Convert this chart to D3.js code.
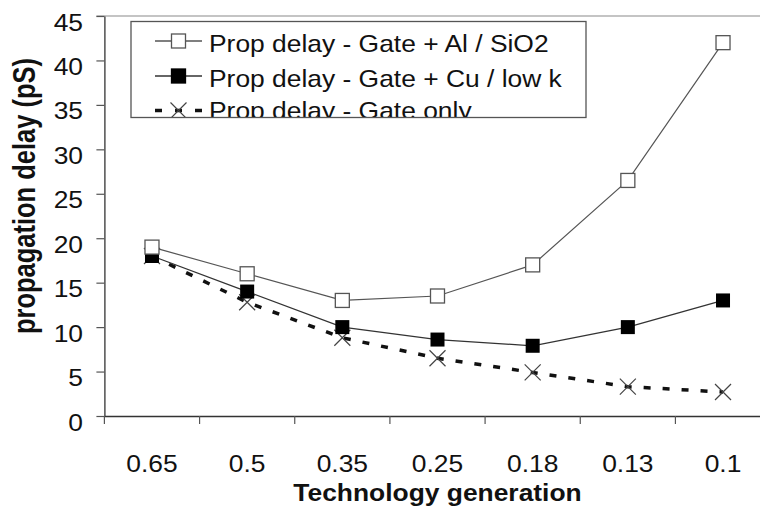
<!DOCTYPE html>
<html>
<head>
<meta charset="utf-8">
<script src="https://cdn.jsdelivr.net/npm/d3@7"></script>
<style>
  html, body { margin: 0; padding: 0; background: #fff; }
  svg { display: block; font-family: "Liberation Sans", Arial, sans-serif; }
</style>
</head>
<body>
<svg id="chart" width="760" height="511"></svg>
<script>
const categories = ["0.65", "0.5", "0.35", "0.25", "0.18", "0.13", "0.1"];
const alSiO2 = [19, 16, 13, 13.5, 17, 26.5, 42];
const cuLowK = [18, 14, 10, 8.6, 7.9, 10, 13];
const gateOnly = [18, 12.8, 8.8, 6.5, 4.9, 3.3, 2.7];
const yTicks = [0, 5, 10, 15, 20, 25, 30, 35, 40, 45];
const seriesNames = ["Prop delay - Gate + Al / SiO2", "Prop delay - Gate + Cu / low k", "Prop delay - Gate only"];

(function () {
const svg = d3.select("#chart");
const SX = 1.1;
const pLeft = 104.4, pRight = 770.6, pTop = 16, pBottom = 416;

const x = d3.scaleBand().domain(categories).range([pLeft, pRight]).padding(0);
const y = d3.scaleLinear().domain([0, 45]).range([pBottom, pTop]);
const cx = c => x(c) + x.bandwidth() / 2;

// top border of plot area
svg.append("line").attr("x1", pLeft - 8).attr("x2", 760).attr("y1", y(45)).attr("y2", y(45))
  .attr("stroke", "#b0b0b0").attr("stroke-width", 1.5);

// Y axis
const yAxis = svg.append("g").attr("transform", `translate(${pLeft},0)`)
  .call(d3.axisLeft(y).tickValues(yTicks).tickSize(8).tickSizeOuter(0));
yAxis.select(".domain").attr("stroke", "#333").attr("stroke-width", 1.3);
yAxis.selectAll(".tick line").attr("stroke", "#555").attr("stroke-width", 1.2);
yAxis.selectAll(".tick text")
  .attr("x", 0).attr("dy", 0)
  .attr("transform", "translate(-21.4,14) scale(" + SX + ",1)")
  .attr("text-anchor", "end")
  .attr("font-size", 24).attr("font-family", "Liberation Sans, Arial, sans-serif")
  .attr("fill", "#111");

// X axis
const xAxis = svg.append("g").attr("transform", `translate(0,${pBottom})`)
  .call(d3.axisBottom(x).tickSize(0).tickSizeOuter(0));
xAxis.select(".domain").attr("stroke", "#333").attr("stroke-width", 1.3);
xAxis.selectAll(".tick line").remove();
xAxis.selectAll(".tick text")
  .attr("y", 0).attr("dy", 0)
  .attr("transform", "translate(0,56) scale(" + SX + ",1)")
  .attr("font-size", 24).attr("font-family", "Liberation Sans, Arial, sans-serif")
  .attr("fill", "#111");
// category boundary ticks
xAxis.selectAll(".bound").data(categories).enter().append("line")
  .attr("x1", d => x(d)).attr("x2", d => x(d)).attr("y1", 0).attr("y2", 8)
  .attr("stroke", "#555").attr("stroke-width", 1.2);

// Axis titles
svg.append("text")
  .attr("transform", `translate(${(pLeft + pRight) / 2},501) scale(${SX},1)`)
  .attr("text-anchor", "middle").attr("font-weight", "bold").attr("font-size", 24)
  .attr("fill", "#111").text("Technology generation");
svg.append("text")
  .attr("transform", `translate(35,196) scale(1.25,1) rotate(-90)`)
  .attr("text-anchor", "middle").attr("font-weight", "bold").attr("font-size", 25.5)
  .attr("fill", "#111").text("propagation delay (pS)");

// Series
const line = d3.line().x((d, i) => cx(categories[i])).y(d => y(d));
const plot = svg.append("g");

plot.append("path").datum(gateOnly).attr("d", line).attr("fill", "none")
  .attr("stroke", "#111").attr("stroke-width", 3.5).attr("stroke-dasharray", "7,12");
plot.append("path").datum(cuLowK).attr("d", line).attr("fill", "none")
  .attr("stroke", "#333").attr("stroke-width", 1.3);
plot.append("path").datum(alSiO2).attr("d", line).attr("fill", "none")
  .attr("stroke", "#555").attr("stroke-width", 1.2);

const S = 14;
function xMark(g, px, py) {
  const h = 8;
  g.append("path").attr("d", `M${px - h},${py - h}L${px + h},${py + h}M${px - h},${py + h}L${px + h},${py - h}`)
    .attr("stroke", "#444").attr("stroke-width", 1.2).attr("fill", "none");
}
gateOnly.forEach((v, i) => xMark(plot, cx(categories[i]), y(v)));
plot.selectAll(".fsq").data(cuLowK).enter().append("rect")
  .attr("x", (d, i) => cx(categories[i]) - S / 2).attr("y", d => y(d) - S / 2)
  .attr("width", S).attr("height", S).attr("fill", "#000");
plot.selectAll(".osq").data(alSiO2).enter().append("rect")
  .attr("x", (d, i) => cx(categories[i]) - S / 2).attr("y", d => y(d) - S / 2)
  .attr("width", S).attr("height", S).attr("fill", "#fff")
  .attr("stroke", "#555").attr("stroke-width", 1.3);

// Legend
const lg = svg.append("g");
const box = { x: 131, y: 21.5, w: 455, h: 96 };
svg.append("defs").append("clipPath").attr("id", "lgclip").append("rect")
  .attr("x", box.x).attr("y", box.y).attr("width", box.w).attr("height", box.h);
lg.append("rect").attr("x", box.x).attr("y", box.y).attr("width", box.w).attr("height", box.h)
  .attr("fill", "#fff");
const lgc = lg.append("g").attr("clip-path", "url(#lgclip)");
const rowY = [41, 76, 110.5];
const textY = [52, 87, 119];
seriesNames.forEach((name, i) => {
  const ry = rowY[i];
  if (i < 2) {
    lgc.append("line").attr("x1", 155).attr("x2", 202).attr("y1", ry).attr("y2", ry)
      .attr("stroke", i === 0 ? "#555" : "#333").attr("stroke-width", 1.3);
    lgc.append("rect").attr("x", 178.5 - S / 2).attr("y", ry - S / 2).attr("width", S).attr("height", S)
      .attr("fill", i === 0 ? "#fff" : "#000").attr("stroke", i === 0 ? "#555" : "#000").attr("stroke-width", 1.3);
  } else {
    lgc.append("line").attr("x1", 155).attr("x2", 202).attr("y1", ry).attr("y2", ry)
      .attr("stroke", "#111").attr("stroke-width", 3.5).attr("stroke-dasharray", "7,13");
    xMark(lgc, 178.5, ry);
  }
  lgc.append("text").attr("transform", `translate(209,${textY[i]}) scale(${SX},1)`)
    .attr("font-size", 24).attr("fill", "#111").text(name);
});
lg.append("rect").attr("x", box.x).attr("y", box.y).attr("width", box.w).attr("height", box.h)
  .attr("fill", "none").attr("stroke", "#555").attr("stroke-width", 1.3);
})();
</script>
</body>
</html>
